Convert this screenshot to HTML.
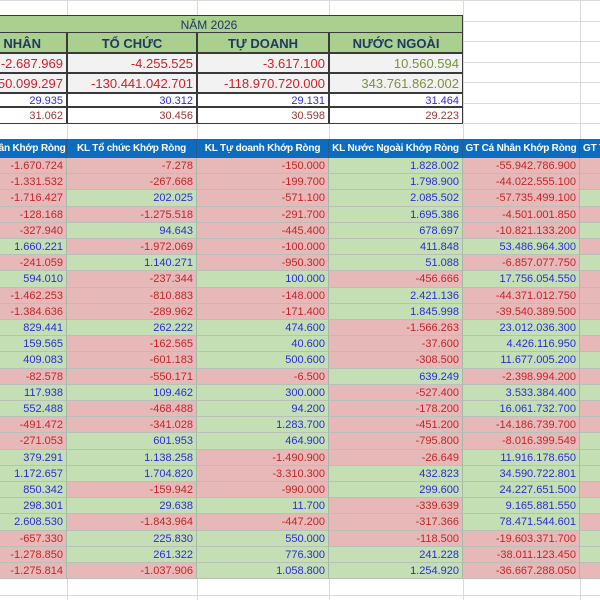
<!DOCTYPE html>
<html><head><meta charset="utf-8">
<style>
html,body{margin:0;width:600px;height:600px;overflow:hidden;background:#fff;font-family:"Liberation Sans","DejaVu Sans",sans-serif}
#root{position:relative;width:600px;height:600px;overflow:hidden}
.g{position:absolute;background:#dadada}
.c{position:absolute;box-sizing:border-box;text-align:right;padding-right:3px;white-space:nowrap;overflow:hidden}
</style></head><body>
<div id="root"></div>
<script>
const colX=[-45,67,197,329,463,580,640];
const topHead=["CÁ NHÂN","TỔ CHỨC","TỰ DOANH","NƯỚC NGOÀI"];
const topKL=["-2.687.969","-4.255.525","-3.617.100","10.560.594"];
const topGT=["-82.350.099.297","-130.441.042.701","-118.970.720.000","343.761.862.002"];
const topR3=["29.935","30.312","29.131","31.464"];
const topR4=["31.062","30.456","30.598","29.223"];
const colHeads=["KL Cá Nhân Khớp Ròng","KL Tổ chức Khớp Ròng","KL Tự doanh Khớp Ròng","KL Nước Ngoài Khớp Ròng","GT Cá Nhân Khớp Ròng","GT Tổ chức Khớp Ròng"];
const caNhan=["-1.670.724","-1.331.532","-1.716.427","-128.168","-327.940","1.660.221","-241.059","594.010","-1.462.253","-1.384.636","829.441","159.565","409.083","-82.578","117.938","552.488","-491.472","-271.053","379.291","1.172.657","850.342","298.301","2.608.530","-657.330","-1.278.850","-1.275.814"];
const toChuc=["-7.278","-267.668","202.025","-1.275.518","94.643","-1.972.069","1.140.271","-237.344","-810.883","-289.962","262.222","-162.565","-601.183","-550.171","109.462","-468.488","-341.028","601.953","1.138.258","1.704.820","-159.942","29.638","-1.843.964","225.830","261.322","-1.037.906"];
const tuDoanh=["-150.000","-199.700","-571.100","-291.700","-445.400","-100.000","-950.300","100.000","-148.000","-171.400","474.600","40.600","500.600","-6.500","300.000","94.200","1.283.700","464.900","-1.490.900","-3.310.300","-990.000","11.700","-447.200","550.000","776.300","1.058.800"];
const nuocNgoai=["1.828.002","1.798.900","2.085.502","1.695.386","678.697","411.848","51.088","-456.666","2.421.136","1.845.998","-1.566.263","-37.600","-308.500","639.249","-527.400","-178.200","-451.200","-795.800","-26.649","432.823","299.600","-339.639","-317.366","-118.500","241.228","1.254.920"];
const gtCaNhan=["-55.942.786.900","-44.022.555.100","-57.735.499.100","-4.501.001.850","-10.821.133.200","53.486.964.300","-6.857.077.750","17.756.054.550","-44.371.012.750","-39.540.389.500","23.012.036.300","4.426.116.950","11.677.005.200","-2.398.994.200","3.533.384.400","16.061.732.700","-14.186.739.700","-8.016.399.549","11.916.178.650","34.590.722.801","24.227.651.500","9.165.881.550","78.471.544.601","-19.603.371.700","-38.011.123.450","-36.667.288.050"];
const gtToChuc=["-1","-1","1","-1","1","-1","1","-1","-1","-1","1","-1","1","-1","1","-1","-1","1","1","1","-1","1","-1","1","1","-1"];

const root=document.getElementById('root');
function cell(x,y,w,h,txt,st){const d=document.createElement('div');d.className='c';
d.style.cssText=`left:${x}px;top:${y}px;width:${w}px;height:${h}px;line-height:${h}px;`+st;d.textContent=txt;root.appendChild(d);return d;}
for(let y=0;y<600;y+=20.5){const g=document.createElement('div');g.className='g';g.style.cssText=`left:0;top:${Math.round(y)}px;width:600px;height:1px`;root.appendChild(g);}
for(const x of colX){if(x<0||x>=600)continue;const g=document.createElement('div');g.className='g';g.style.cssText=`left:${x}px;top:0;width:1px;height:600px`;root.appendChild(g);}
const B='border:1px solid #3a3a3a;';
let d=cell(colX[0],15,463-colX[0],18,"NĂM 2026",B+"background:#a9d08e;text-align:center;color:#1f3864;font-size:12px;padding:0;");

for(let i=0;i<4;i++){const x=colX[i],w=colX[i+1]-x;
 d=cell(x,32,w,21,topHead[i],B+"background:#a9d08e;text-align:center;color:#1f3864;font-size:13px;font-weight:bold;padding:0;");
 
}
const rowY=[53,73,93,107],rowH=[20,20,14,17],rowBg=['#f2f2f2','#f2f2f2','#fff','#fff'],rowFs=[13,13,11,11];
const rowsArr=[topKL,topGT,topR3,topR4];
for(let r=0;r<4;r++)for(let i=0;i<4;i++){const v=rowsArr[r][i];let col;
 if(r<2)col=v[0]==='-'?'#d0202a':'#76923c';else col=r===2?'#2b2bd9':'#943634';
 d=cell(colX[i],rowY[r],colX[i+1]-colX[i],rowH[r],v,B+`background:${rowBg[r]};color:${col};font-size:${rowFs[r]}px;`);
 }
for(let i=0;i<6;i++){const x=colX[i],w=colX[i+1]-x;
 d=cell(x,139,w,19,colHeads[i],"background:#0b6cc0;color:#fff;font-weight:bold;font-size:10px;letter-spacing:-0.2px;text-align:"+(i===5?"left;padding:0 0 0 3px;":"center;padding:0;")+"border-right:1px solid #2a5a8a;");
 }
const cols=[caNhan,toChuc,tuDoanh,nuocNgoai,gtCaNhan,gtToChuc];
const rh=16.2;
for(let r=0;r<caNhan.length;r++)for(let i=0;i<6;i++){const v=cols[i][r];const neg=v[0]==='-';
 const y=158+r*rh;
 d=cell(colX[i],Math.round(y),colX[i+1]-colX[i],Math.round(y+rh)-Math.round(y),i===5?'':v,
 `background:${neg?'#e6b8b7':'#c4dfb4'};color:${neg?'#c0262a':'#2b2bd9'};font-size:11px;border-right:1px solid #a8b8a8;border-bottom:1px solid #b8c0b8;`);
 
 }
</script>
</body></html>
